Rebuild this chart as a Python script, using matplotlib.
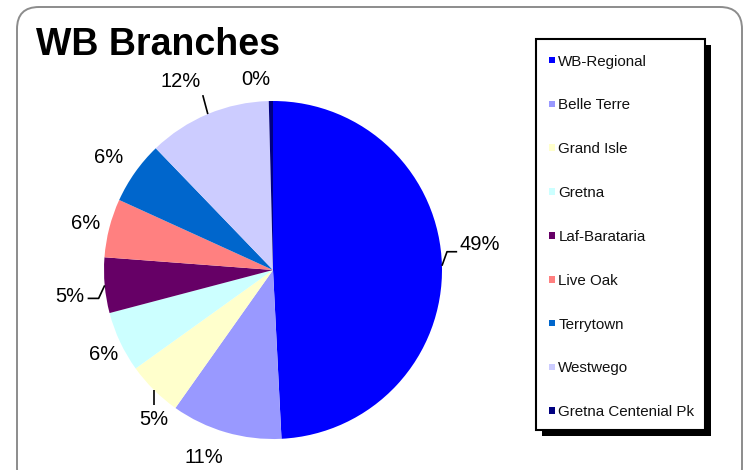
import matplotlib
matplotlib.use("Agg")
import matplotlib.pyplot as plt
from matplotlib.patches import FancyBboxPatch, Patch, Rectangle
import numpy as np

plt.rcParams['font.family'] = ['Liberation Sans', 'DejaVu Sans']

# Share of circulation by branch (percent)
branches = ["WB-Regional", "Belle Terre", "Grand Isle", "Gretna", "Laf-Barataria",
            "Live Oak", "Terrytown", "Westwego", "Gretna Centenial Pk"]
shares = [49.2, 10.6, 5.3, 5.8, 5.3, 5.6, 6.0, 11.8, 0.4]
colors = ["#0000FF", "#9999FF", "#FFFFCC", "#CCFFFF", "#660066",
          "#FF8080", "#0066CC", "#CCCCFF", "#000080"]
title = "WB Branches"

# Label placement: (distance from centre in radii, angular nudge in degrees, clockwise)
label_layout = [(1.23, -5.5), (1.18, 4.0), (1.13, -6.3), (1.12, -1.2), (1.21, -2.3),
                (1.14, -0.4), (1.18, -1.0), (1.24, -3.4), (1.13, -4.3)]
# Leader lines: successive offsets (in radii) from the wedge's outer edge
leaders = {0: [(0.03, 0.083), (0.06, 0.0)],
           2: [(0.0, -0.09)],
           4: [(-0.036, -0.077), (-0.065, 0.0)],
           7: [(-0.03, 0.112)]}

W, H = 744, 470
DPI = 100
fig = plt.figure(figsize=(W / DPI, H / DPI), dpi=DPI)
fig.patch.set_facecolor("white")

def px_box(x0, top, x1, bottom):
    """Convert a pixel box (origin top-left) to inches for dpi_scale_trans."""
    return x0 / DPI, (H - bottom) / DPI, (x1 - x0) / DPI, (bottom - top) / DPI

# Rounded chart-area frame
bx, by, bw, bh = px_box(17, 7, 742, 490)
frame = FancyBboxPatch((bx, by), bw, bh,
                       boxstyle="round,pad=0,rounding_size=0.22",
                       transform=fig.dpi_scale_trans, facecolor="none",
                       edgecolor="#8c8c8c", linewidth=1.4, zorder=-1)
fig.patches.append(frame)

fig.text(36 / W, 1 - 45 / H, title, fontsize=27, fontweight="bold",
         va="center", ha="left")

# Pie axes covering the figure; 169 px per data unit, centre at (273, 270) px
scale = 169.0
cx, cy = 273.0, 270.0
ax = fig.add_axes([0, 0, 1, 1])
ax.patch.set_alpha(0)
wedges, _ = ax.pie(shares, colors=colors, startangle=90, counterclock=False,
                   radius=1.0, wedgeprops=dict(linewidth=0))
ax.set_xlim(-cx / scale, (W - cx) / scale)
ax.set_ylim(-(H - cy) / scale, cy / scale)
ax.set_aspect("equal")
ax.axis("off")

for i, (w, v) in enumerate(zip(wedges, shares)):
    mid = np.deg2rad((w.theta1 + w.theta2) / 2.0)
    dist, nudge = label_layout[i]
    ang = mid - np.deg2rad(nudge)
    ax.text(dist * np.cos(ang), dist * np.sin(ang), f"{round(v)}%",
            fontsize=14.5, ha="center", va="center")
    if i in leaders:
        px, py = np.cos(mid), np.sin(mid)
        xs, ys = [px], [py]
        for dx, dy in leaders[i]:
            px, py = px + dx, py + dy
            xs.append(px)
            ys.append(py)
        ax.plot(xs, ys, color="black", linewidth=1.2, solid_capstyle="butt")

# Legend box with a solid black drop shadow
lx0, ly0, lx1, ly1 = 536, 39, 705, 430
sx, sy, sw, sh = px_box(lx0 + 6, ly0 + 6, lx1 + 6, ly1 + 6)
fig.patches.append(Rectangle((sx, sy), sw, sh, transform=fig.dpi_scale_trans,
                             facecolor="black", edgecolor="none", zorder=1))
rx, ry, rw, rh = px_box(lx0, ly0, lx1, ly1)
fig.patches.append(Rectangle((rx, ry), rw, rh, transform=fig.dpi_scale_trans,
                             facecolor="white", edgecolor="black", linewidth=1.5,
                             zorder=2))
handles = [Patch(facecolor=c, edgecolor="none") for c in colors]
leg = fig.legend(handles, branches, loc="upper left",
                 bbox_to_anchor=(541 / W, 1 - 47 / H), frameon=False,
                 fontsize=10.9, handlelength=0.44, handleheight=0.3,
                 handletextpad=0.2, labelspacing=1.97, borderpad=0,
                 labelcolor="#111111")
leg.set_zorder(3)

fig.savefig("out.png", dpi=DPI, facecolor="white")
